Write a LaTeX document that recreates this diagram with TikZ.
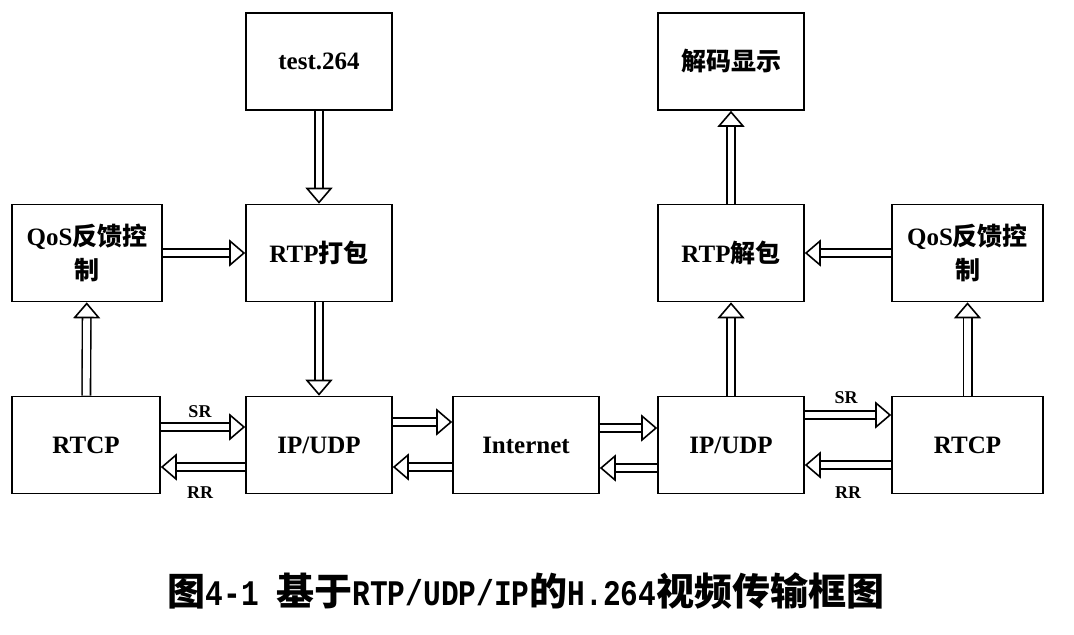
\documentclass[tikz,border=0pt]{standalone}
\usepackage{fontspec}
\setmainfont{Liberation Serif}
\newfontfamily\capmono[FakeStretch=0.82]{Liberation Mono}
\newfontfamily\cjk{Noto Sans CJK SC}
\usetikzlibrary{arrows.meta}
\begin{document}
\begin{tikzpicture}[x=0.5pt,y=-0.5pt,
    box/.style={draw, line width=0.8pt, minimum width=73pt, minimum height=48.5pt,
        align=center, font=\fontsize{12.5}{17}\selectfont\bfseries},
    hollow/.style={double, double distance=3.4pt, line width=0.8pt,
        -{Triangle[open, length=8pt 0, width=13.5pt 0]}},
    tag/.style={font=\fontsize{9}{10}\selectfont\bfseries}]
    \useasboundingbox (0,0) rectangle (1074,634);

    % Sender side
    \node[box] (src)   at (319,61.5) {test.264};
    \node[box] (pack)  at (319,253) {RTP{\cjk 打包}};
    \node[box] (ipS)   at (319,445) {IP/UDP};
    \node[box, minimum width=75pt] (qosS) at (87,253) {QoS{\cjk 反馈控}\\{\cjk 制}};
    \node[box, minimum width=74pt] (rtcpS) at (86,445) {RTCP};

    % Network
    \node[box] (net) at (526,445) {Internet};

    % Receiver side
    \node[box] (show)   at (731,61.5) {\cjk 解码显示};
    \node[box] (unpack) at (731,253) {RTP{\cjk 解包}};
    \node[box] (ipR)    at (731,445) {IP/UDP};
    \node[box, minimum width=75.5pt] (qosR)  at (967.5,253) {QoS{\cjk 反馈控}\\{\cjk 制}};
    \node[box, minimum width=75.5pt] (rtcpR) at (967.5,445) {RTCP};

    % Arrows, sender
    \draw[hollow] (src) -- (pack);
    \draw[hollow] (pack) -- (ipS);
    \draw[hollow] (qosS) -- (pack);
    \draw[hollow] (rtcpS) -- (qosS);
    \draw[hollow] ([yshift=9pt]rtcpS.east) -- ([yshift=9pt]ipS.west);
    \draw[hollow] ([yshift=-11pt]ipS.west) -- ([yshift=-11pt]rtcpS.east);
    \node[tag] at (200,412) {SR};
    \node[tag] at (200,493) {RR};

    % Arrows, network
    \draw[hollow] ([yshift=11.5pt]ipS.east) -- ([yshift=11.5pt]net.west);
    \draw[hollow] ([yshift=-11pt]net.west) -- ([yshift=-11pt]ipS.east);
    \draw[hollow] ([yshift=8.5pt]net.east) -- ([yshift=8.5pt]ipR.west);
    \draw[hollow] ([yshift=-11.5pt]ipR.west) -- ([yshift=-11.5pt]net.east);

    % Arrows, receiver
    \draw[hollow] (ipR) -- (unpack);
    \draw[hollow] (unpack) -- (show);
    \draw[hollow] (qosR) -- (unpack);
    \draw[hollow] (rtcpR) -- (qosR);
    \draw[hollow] ([yshift=15pt]ipR.east) -- ([yshift=15pt]rtcpR.west);
    \draw[hollow] ([yshift=-10pt]rtcpR.west) -- ([yshift=-10pt]ipR.east);
    \node[tag] at (846,398) {SR};
    \node[tag] at (848,493) {RR};

    % Caption
    \node[font=\fontsize{19}{22}\selectfont\cjk\bfseries] (cap) at (526,591)
        {图{\fontsize{18}{22}\capmono\bfseries 4-1 }基于{\fontsize{18}{22}\capmono\bfseries RTP/UDP/IP}的{\fontsize{18}{22}\capmono\bfseries H.264}视频传输框图};
\end{tikzpicture}
\end{document}
